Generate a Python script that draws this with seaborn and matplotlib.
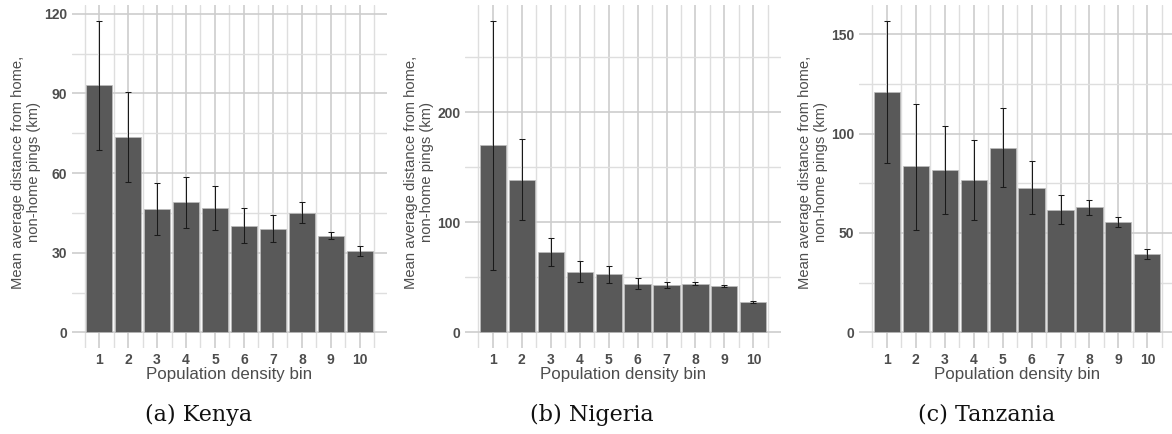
import matplotlib
matplotlib.use("Agg")
import matplotlib.pyplot as plt
import numpy as np
import pandas as pd
import seaborn as sns
from matplotlib.ticker import FixedLocator

# Population density bins (1 = least dense)
bins = [1, 2, 3, 4, 5, 6, 7, 8, 9, 10]

# Mean average distance from home for non-home pings (km), with CI bounds
kenya_mean = [93.0, 73.6, 46.4, 49.1, 46.9, 40.1, 39.0, 45.0, 36.2, 30.5]
kenya_low = [68.7, 56.6, 36.6, 39.2, 38.6, 33.6, 33.9, 41.2, 35.1, 28.8]
kenya_high = [117.4, 90.5, 56.3, 58.6, 55.1, 46.7, 44.1, 49.0, 37.9, 32.4]
kenya_ticks = [0, 30, 60, 90, 120]

nigeria_mean = [169.8, 138.4, 72.8, 54.7, 52.6, 44.1, 42.9, 43.8, 42.3, 27.5]
nigeria_low = [57.1, 102.2, 60.1, 46.0, 45.1, 39.3, 40.2, 42.6, 41.4, 26.9]
nigeria_high = [283.1, 175.6, 86.1, 64.6, 60.1, 49.2, 46.2, 45.6, 43.2, 28.4]
nigeria_ticks = [0, 100, 200]

tanzania_mean = [121.0, 83.5, 81.7, 76.5, 92.9, 72.6, 61.7, 62.9, 55.7, 39.2]
tanzania_low = [85.2, 51.7, 59.6, 56.4, 73.1, 59.4, 54.4, 59.1, 53.2, 37.0]
tanzania_high = [156.8, 115.1, 103.9, 96.9, 112.9, 86.2, 69.3, 66.8, 58.2, 41.7]
tanzania_ticks = [0, 50, 100, 150]

captions = ["(a) Kenya", "(b) Nigeria", "(c) Tanzania"]

sns.set_theme(style="white")
plt.rcParams["font.family"] = ["Liberation Sans", "DejaVu Sans"]

W, H = 1172, 434
fig = plt.figure(figsize=(W / 100, H / 100), dpi=100)

panel_left_px = [71.7, 465.3, 859.3]
caption_x_px = [199, 592, 987]
panel_w_px = 315.5
panel_bottom_px = 348
panel_top_px = 5
panel_h_px = panel_bottom_px - panel_top_px

series = [
    (kenya_mean, kenya_low, kenya_high, kenya_ticks),
    (nigeria_mean, nigeria_low, nigeria_high, nigeria_ticks),
    (tanzania_mean, tanzania_low, tanzania_high, tanzania_ticks),
]

text_grey = "#4d4d4d"
bar_grey = "#595959"

for i, (mean, low, high, ticks) in enumerate(series):
    ax = fig.add_axes([
        panel_left_px[i] / W,
        (H - panel_bottom_px) / H,
        panel_w_px / W,
        panel_h_px / H,
    ])
    df = pd.DataFrame({"bin": bins, "dist": mean})
    sns.barplot(data=df, x="bin", y="dist", native_scale=True, color=bar_grey,
                saturation=1, width=0.9, errorbar=None, edgecolor="#bdbdbd",
                linewidth=0.5, ax=ax, zorder=2)
    m = np.array(mean)
    ax.errorbar(bins, m, yerr=[m - np.array(low), np.array(high) - m],
                fmt="none", ecolor="#1a1a1a", elinewidth=0.75, capsize=2.2,
                capthick=0.75, zorder=3)

    # ggplot-style expanded limits
    xlo, xhi = bins[0] - 0.45, bins[-1] + 0.45
    xpad = 0.05 * (xhi - xlo)
    ax.set_xlim(xlo - xpad, xhi + xpad)
    ytop = max(high)
    ypad = 0.05 * ytop
    ax.set_ylim(-ypad, ytop + ypad)

    step = ticks[1] - ticks[0]
    ax.xaxis.set_major_locator(FixedLocator(bins))
    ax.xaxis.set_minor_locator(FixedLocator([b - 0.5 for b in bins] + [bins[-1] + 0.5]))
    ax.yaxis.set_major_locator(FixedLocator(ticks))
    minor_y = [t + step / 2 for t in ticks]
    ax.yaxis.set_minor_locator(FixedLocator(minor_y))
    ax.set_xticklabels([str(b) for b in bins])

    ax.set_axisbelow(True)
    ax.grid(which="major", color="#cdcdcd", linewidth=1.2)
    ax.grid(which="minor", color="#dedede", linewidth=1.0)
    for s in ax.spines.values():
        s.set_visible(False)
    ax.tick_params(which="both", length=0)
    ax.tick_params(axis="both", which="major", labelsize=10,
                   labelcolor=text_grey, pad=3.5)
    for lab in ax.get_xticklabels() + ax.get_yticklabels():
        lab.set_fontweight("bold")

    ax.set_xlabel("Population density bin", fontsize=12.2, color=text_grey,
                  labelpad=0)
    ax.set_ylabel("Mean average distance from home,\nnon-home pings (km)",
                  fontsize=10.6, color=text_grey, linespacing=1.2)
    ax.yaxis.label.set_va("center")
    ax.yaxis.set_label_coords(-46 / panel_w_px, 0.5 + 4 / panel_h_px)

    fig.text(caption_x_px[i] / W, 1 - 415 / H, captions[i],
             ha="center", va="center", fontsize=16,
             family=["DejaVu Serif"], color="#111111")

fig.savefig("out.png", dpi=100)
